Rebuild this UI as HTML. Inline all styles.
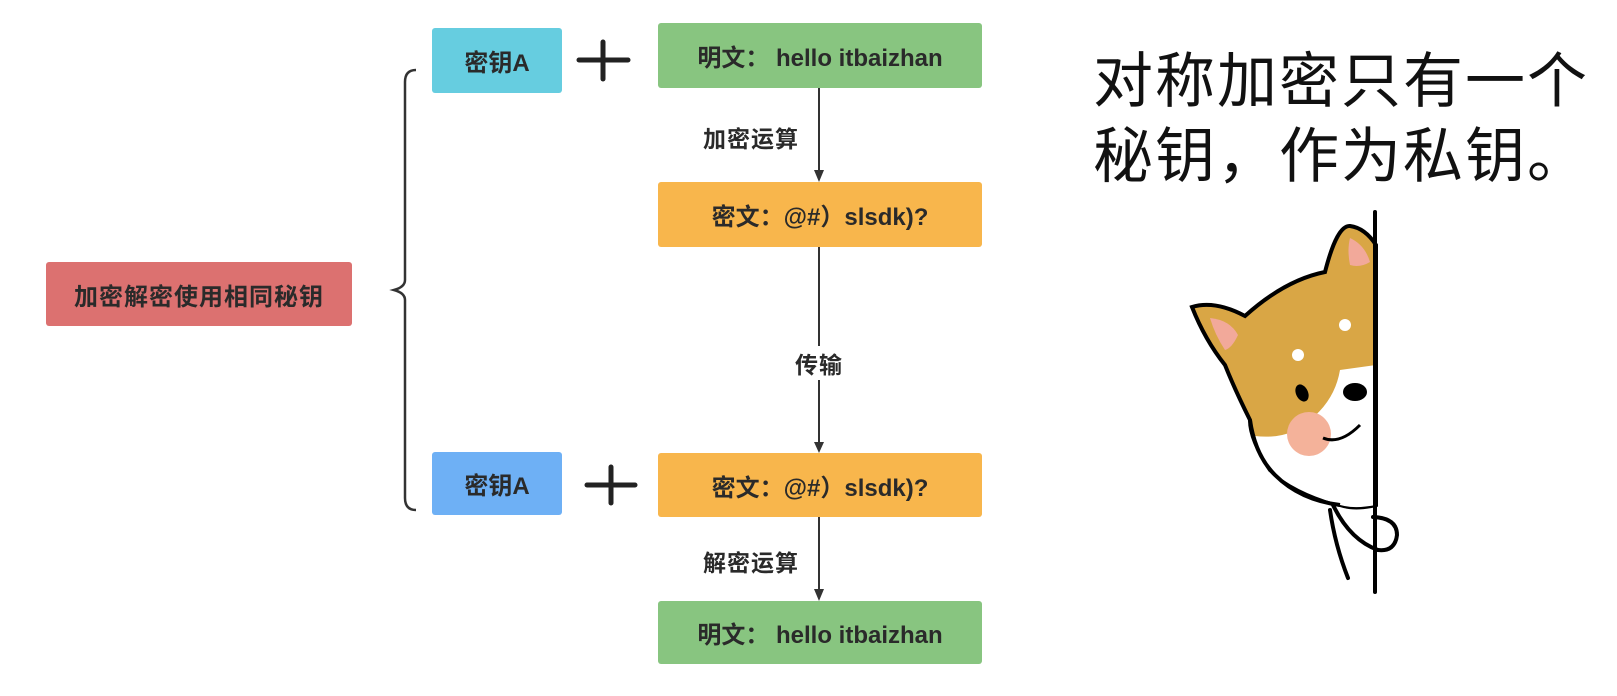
<!DOCTYPE html>
<html><head><meta charset="utf-8"><style>
body{margin:0;width:1617px;height:696px;background:#fff;position:relative;overflow:hidden;font-family:"Liberation Sans","Noto Sans CJK SC",sans-serif}
.b{position:absolute;display:flex;align-items:center;justify-content:center;font-weight:bold;font-size:24px;color:#2a2a2a;border-radius:3px;white-space:nowrap}
.l{position:absolute;font-weight:bold;font-size:23px;color:#2a2a2a;background:#fff;letter-spacing:1px}
.t{position:absolute;left:1093px;font-size:60px;color:#111;white-space:nowrap;letter-spacing:2px}
</style></head><body>
<div class="b" style="left:432px;top:28px;width:130px;height:65px;background:#66CDE0">密钥A</div>
<div class="b" style="left:658px;top:23px;width:324px;height:65px;background:#88C580">明文：&nbsp;hello itbaizhan</div>
<div class="b" style="left:658px;top:182px;width:324px;height:65px;background:#F8B64C">密文：@#）slsdk)?</div>
<div class="b" style="left:46px;top:262px;width:306px;height:64px;background:#DC7170;letter-spacing:1px">加密解密使用相同秘钥</div>
<div class="b" style="left:432px;top:452px;width:130px;height:63px;background:#6EB0F5">密钥A</div>
<div class="b" style="left:658px;top:453px;width:324px;height:64px;background:#F8B64C">密文：@#）slsdk)?</div>
<div class="b" style="left:658px;top:601px;width:324px;height:63px;background:#88C580">明文：&nbsp;hello itbaizhan</div>
<svg width="1617" height="696" style="position:absolute;left:0;top:0">
<g stroke="#333" stroke-width="2" fill="none">
<line x1="819" y1="88" x2="819" y2="172"/><line x1="819" y1="247" x2="819" y2="444"/><line x1="819" y1="517" x2="819" y2="591"/>
<path d="M416 70 Q405 70 405 82 L405 280 Q405 287 394 290 Q405 293 405 300 L405 498 Q405 510 416 510" stroke-width="2.5"/>
</g>
<g fill="#333"><path d="M814 170 L824 170 L819 182Z"/><path d="M814 442 L824 442 L819 453Z"/><path d="M814 589 L824 589 L819 601Z"/></g>
<g stroke="#222" stroke-width="5" stroke-linecap="round">
<line x1="579" y1="60" x2="628" y2="60"/><line x1="603" y1="42" x2="603" y2="79"/>
<line x1="587" y1="485" x2="635" y2="485"/><line x1="611" y1="467" x2="611" y2="503"/>
</g>
<path d="M1192 307 Q1215 300 1245 316 Q1285 280 1325 272 Q1337 225 1350 226 Q1365 228 1376 245 L1376 505 Q1355 510 1340 505 Q1300 495 1270 470 Q1250 440 1250 420 Q1235 390 1225 365 Q1205 340 1192 307Z" fill="#D9A645" stroke="#000" stroke-width="4"/>
<path d="M1255 436 Q1290 440 1310 420 Q1335 400 1340 370 L1376 365 L1376 505 Q1350 510 1335 503 Q1290 490 1265 465Z" fill="#fff"/>
<path d="M1250 420 Q1255 455 1275 475 Q1300 500 1340 505" fill="none" stroke="#000" stroke-width="4"/>
<path d="M1210 318 Q1230 320 1238 335 Q1232 348 1225 350 Q1215 335 1210 318Z" fill="#F2A99A"/>
<path d="M1350 238 Q1365 245 1370 262 Q1360 268 1350 265 Q1347 250 1350 238Z" fill="#F2A99A"/>
<circle cx="1345" cy="325" r="6" fill="#fff"/><circle cx="1298" cy="355" r="6" fill="#fff"/>
<ellipse cx="1302" cy="393" rx="6" ry="9" fill="#000" transform="rotate(-25 1302 393)"/>
<ellipse cx="1355" cy="392" rx="12" ry="9" fill="#000"/>
<circle cx="1309" cy="434" r="22" fill="#F4B29A"/>
<path d="M1323 438 Q1340 445 1360 425" fill="none" stroke="#000" stroke-width="3"/>
<g fill="none" stroke="#000" stroke-width="4" stroke-linecap="round">
<line x1="1375" y1="212" x2="1375" y2="592"/>
<path d="M1330 510 Q1335 545 1348 578"/>
<path d="M1333 505 Q1350 540 1378 550"/>
<path d="M1373 517 Q1397 518 1397 535 Q1395 552 1378 550"/>
</g>
</svg>
<div class="l" style="left:703px;top:120px">加密运算</div>
<div class="l" style="left:795px;top:346px">传输</div>
<div class="l" style="left:703px;top:544px">解密运算</div>
<div class="t" style="top:33px">对称加密只有一个</div>
<div class="t" style="top:108px">秘钥，作为私钥。</div>
</body></html>
